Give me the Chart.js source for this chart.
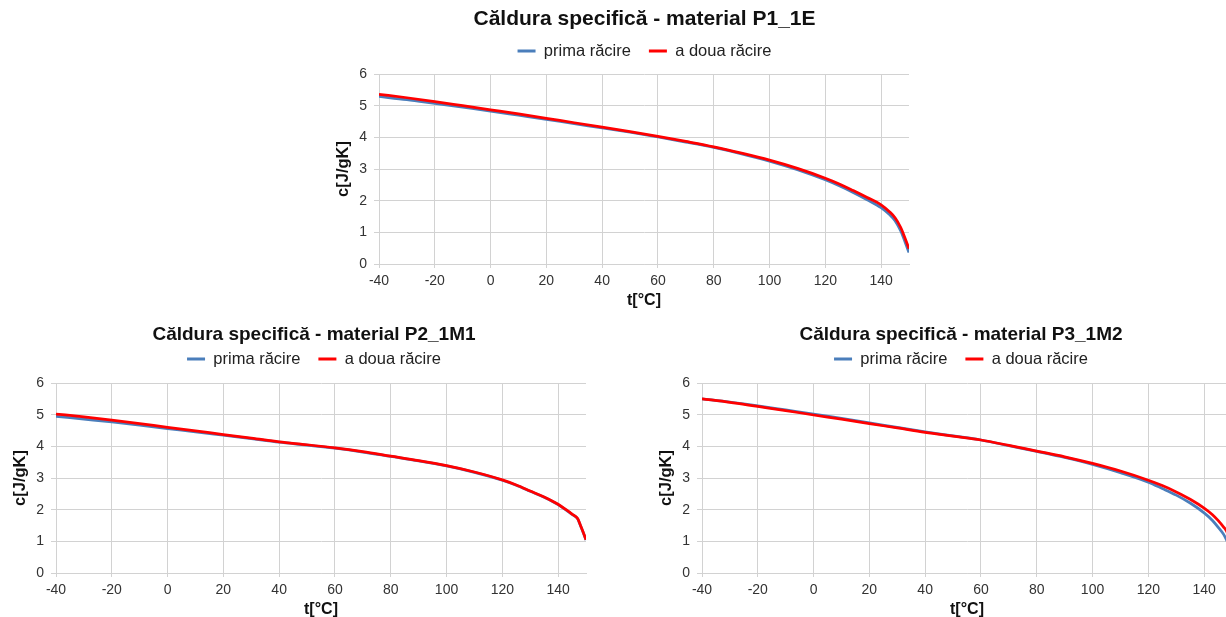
<!DOCTYPE html>
<html>
<head>
<meta charset="utf-8">
<script src="https://cdn.jsdelivr.net/npm/chart.js@4/dist/chart.umd.min.js"></script>
<style>
  html, body { margin: 0; padding: 0; background: #fff; width: 1226px; height: 617px; overflow: hidden; position: relative; }
  canvas { position: absolute; display: block; }
</style>
</head>
<body>
<canvas id="c1" width="643" height="312" style="left:323px;top:0px"></canvas>
<canvas id="c2" width="628" height="310" style="left:0px;top:309px"></canvas>
<canvas id="c3" width="630" height="310" style="left:646px;top:309px"></canvas>
<script>
// Temperatures (°C) at which specific heat was sampled
const temps = [-40, -30, -20, -10, 0, 10, 20, 30, 40, 50, 60, 70, 80, 90, 100, 110, 120, 125, 130, 135, 140, 143, 145, 147, 148, 149, 150];

// Labelled positions on the temperature axis
const xTicks = [-40, -20, 0, 20, 40, 60, 80, 100, 120, 140];

// Specific heat c [J/gK] – material P1_1E
const p1First  = [5.29, 5.19, 5.07, 4.95, 4.83, 4.70, 4.57, 4.43, 4.30, 4.16, 4.01, 3.85, 3.68, 3.48, 3.25, 2.98, 2.66, 2.47, 2.26, 2.03, 1.78, 1.56, 1.37, 1.05, 0.84, 0.60, 0.36];
const p1Second = [5.36, 5.25, 5.13, 5.00, 4.87, 4.74, 4.60, 4.46, 4.32, 4.18, 4.03, 3.87, 3.70, 3.50, 3.28, 3.02, 2.71, 2.53, 2.32, 2.10, 1.87, 1.65, 1.46, 1.16, 0.95, 0.72, 0.48];

// Specific heat c [J/gK] – material P2_1M1
const p2First  = [4.95, 4.86, 4.77, 4.67, 4.56, 4.46, 4.35, 4.24, 4.13, 4.04, 3.94, 3.82, 3.68, 3.54, 3.38, 3.18, 2.93, 2.77, 2.58, 2.39, 2.16, 1.98, 1.85, 1.71, 1.50, 1.28, 1.04];
const p2Second = [5.02, 4.93, 4.83, 4.72, 4.60, 4.49, 4.37, 4.26, 4.14, 4.05, 3.95, 3.83, 3.69, 3.55, 3.39, 3.19, 2.94, 2.78, 2.59, 2.40, 2.17, 1.99, 1.86, 1.72, 1.51, 1.29, 1.05];

// Specific heat c [J/gK] – material P3_1M2
const p3First  = [5.50, 5.40, 5.28, 5.15, 5.02, 4.88, 4.74, 4.60, 4.46, 4.33, 4.20, 4.02, 3.84, 3.65, 3.43, 3.17, 2.87, 2.67, 2.46, 2.21, 1.90, 1.66, 1.45, 1.22, 1.05, 0.85, 0.60];
const p3Second = [5.50, 5.39, 5.26, 5.13, 4.99, 4.86, 4.72, 4.58, 4.44, 4.32, 4.20, 4.03, 3.85, 3.67, 3.46, 3.22, 2.93, 2.76, 2.56, 2.33, 2.05, 1.84, 1.66, 1.45, 1.33, 1.12, 0.85];

const seriesNames = ['prima răcire', 'a doua răcire'];
const xTitle = 't[°C]';
const yTitle = 'c[J/gK]';
const xMin = -40, xMax = 150;
const yMin = 0, yMax = 6, yStep = 1;

const FONT = "'Liberation Sans', Arial, sans-serif";
const BLUE = '#4A7EBB';
const RED = '#FF0000';
const GRID = '#D2D2D2';

function points(values) {
  return temps.map((t, i) => ({ x: t, y: values[i] }));
}

function buildChart(id, titleText, first, second, lay) {
  return new Chart(document.getElementById(id), {
    type: 'line',
    data: {
      datasets: [
        { label: seriesNames[0], data: points(first), yAxisID: 'y', borderColor: BLUE, backgroundColor: BLUE,
          borderWidth: 2.75, pointRadius: 0, cubicInterpolationMode: 'monotone', order: 2 },
        { label: seriesNames[1], data: points(second), yAxisID: 'y', borderColor: RED, backgroundColor: RED,
          borderWidth: 2.75, pointRadius: 0, cubicInterpolationMode: 'monotone', order: 1 }
      ]
    },
    options: {
      responsive: false,
      animation: false,
      devicePixelRatio: 1,
      layout: { padding: { left: 0, right: 0, top: 0, bottom: lay.padBottom } },
      plugins: {
        title: {
          display: true, text: titleText, color: '#111',
          font: { family: FONT, size: lay.titleSize, weight: 'bold', lineHeight: 1.2 },
          padding: { top: lay.titleTop, bottom: lay.titleBottom }
        },
        subtitle: {
          display: true, text: '', weight: 500,
          font: { size: 0 }, padding: { top: lay.legendGap, bottom: 0 }
        },
        legend: {
          display: true, position: 'top',
          labels: {
            boxWidth: 18, boxHeight: 3, padding: 18, color: '#222',
            font: { family: FONT, size: 16.5 },
            sort: (a, b) => a.datasetIndex - b.datasetIndex,
            generateLabels(chart) {
              const items = Chart.defaults.plugins.legend.labels.generateLabels(chart);
              items.forEach(it => { it.lineWidth = 0; });
              return items;
            }
          }
        },
        tooltip: { enabled: false }
      },
      scales: {
        x: {
          type: 'linear', min: xMin, max: xMax,
          afterBuildTicks: s => { s.ticks = xTicks.map(v => ({ value: v })); },
          afterFit: s => { s.height = 46; },
          ticks: { color: '#333', font: { family: FONT, size: 14 }, padding: 5, maxRotation: 0, autoSkip: false },
          grid: { color: GRID, lineWidth: 1, tickLength: 4 },
          border: { color: GRID, width: 1 },
          title: { display: true, text: xTitle, color: '#111', font: { family: FONT, size: 16, weight: 'bold', lineHeight: 1.2 }, padding: { top: 0, bottom: 0 } }
        },
        y: {
          position: 'left', min: yMin, max: yMax,
          afterFit: s => { s.width = 56; },
          ticks: { stepSize: yStep, color: '#333', font: { family: FONT, size: 14 }, padding: 7 },
          grid: { color: GRID, lineWidth: 1, tickLength: 5 },
          border: { color: GRID, width: 1 },
          title: { display: true, text: yTitle, color: '#111', font: { family: FONT, size: 16.5, weight: 'bold', lineHeight: 1.2 }, padding: { top: 10.5, bottom: 0 } }
        },
        // blank margin on the right of the plot area
        margin: {
          position: 'right', min: yMin, max: yMax,
          afterFit: s => { s.width = lay.rightGap; },
          ticks: { display: false },
          grid: { display: false, drawTicks: false },
          border: { display: false }
        }
      }
    }
  });
}

buildChart('c1', 'Căldura specifică - material P1_1E', p1First, p1Second,
  { titleSize: 21, rightGap: 57, padBottom: 2, titleTop: 6.9, titleBottom: -7.35, legendGap: 4.75 });
buildChart('c2', 'Căldura specifică - material P2_1M1', p2First, p2Second,
  { titleSize: 19, rightGap: 42, padBottom: 0, titleTop: 14.6, titleBottom: -13.65, legendGap: 5.75 });
buildChart('c3', 'Căldura specifică - material P3_1M2', p3First, p3Second,
  { titleSize: 19, rightGap: 44, padBottom: 0, titleTop: 14.6, titleBottom: -13.65, legendGap: 5.75 });
</script>
</body>
</html>
